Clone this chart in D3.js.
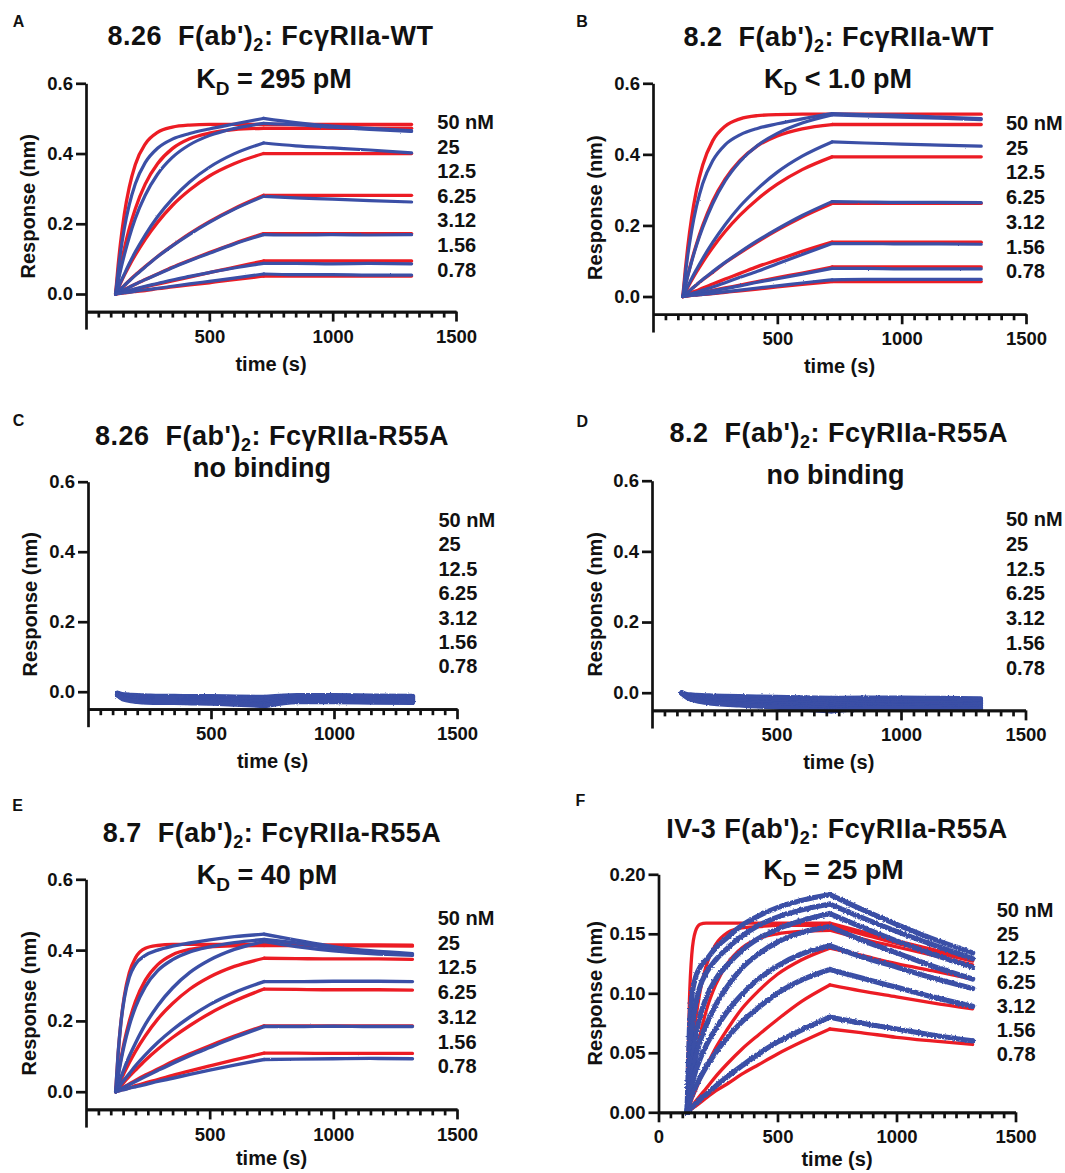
<!DOCTYPE html>
<html>
<head>
<meta charset="utf-8">
<script src="https://cdn.jsdelivr.net/npm/d3@7"></script>
<style>
  body { margin: 0; background: #fff; }
  svg text { font-family: Arial, "Liberation Sans", Helvetica, sans-serif; font-weight: bold; fill: #111; }
</style>
</head>
<body>
<svg id="chart" width="1065" height="1173"></svg>
<script>
// sample times (s): association 120-720, dissociation 720-1320
const TIME = [120, 130, 140, 155, 175, 200, 240, 290, 350, 420, 500, 600, 720, 850, 1000, 1150, 1320];
const CONC_LABELS = ["50 nM", "25", "12.5", "6.25", "3.12", "1.56", "0.78"];

const Y_TICKS = [0, 0.2, 0.4, 0.6];
const F_Y_TICKS = [0, 0.05, 0.1, 0.15, 0.2];
const X_TICKS = [500, 1000, 1500];
const F_X_TICKS = [0, 500, 1000, 1500];
const MINOR_TICKS = d3.range(50, 1500, 50).filter(t => t % 500 !== 0);

// A: 8.26 F(ab')2 : FcgRIIa-WT
const A_FIT = [
  [0, .080, .146, .226, .303, .369, .427, .460, .475, .481, .483, .483, .483, .483, .483, .483, .483],
  [0, .041, .078, .128, .185, .243, .313, .371, .414, .442, .458, .468, .472, .472, .472, .472, .472],
  [0, .016, .031, .053, .080, .111, .156, .204, .252, .296, .336, .371, .400, .400, .400, .400, .400],
  [0, .007, .014, .024, .038, .054, .078, .107, .138, .172, .206, .243, .281, .281, .281, .281, .281],
  [0, .004, .007, .013, .019, .028, .041, .057, .076, .096, .118, .144, .172, .172, .172, .172, .172],
  [0, .002, .003, .006, .009, .013, .020, .028, .037, .048, .061, .076, .094, .094, .094, .094, .094],
  [0, .001, .002, .003, .005, .007, .010, .015, .020, .026, .032, .041, .051, .051, .051, .051, .051]
];
const A_DATA = [
  [0, .063, .118, .185, .253, .314, .374, .415, .441, .457, .470, .484, .500, .488, .478, .472, .465],
  [0, .035, .067, .110, .161, .215, .281, .341, .389, .425, .451, .471, .486, .482, .475, .469, .463],
  [0, .017, .033, .056, .086, .120, .168, .220, .271, .319, .361, .399, .430, .422, .416, .410, .402],
  [0, .007, .014, .024, .037, .053, .077, .106, .137, .170, .204, .241, .278, .274, .270, .266, .262],
  [0, .004, .007, .012, .019, .028, .041, .056, .075, .095, .116, .142, .169, .168, .169, .168, .169],
  [0, .002, .004, .007, .010, .015, .022, .030, .040, .050, .061, .074, .087, .087, .086, .087, .086],
  [0, .001, .002, .004, .005, .008, .012, .016, .022, .029, .036, .045, .057, .055, .055, .054, .054]
];

// B: 8.2 F(ab')2 : FcgRIIa-WT
const B_FIT = [
  [0, .076, .141, .220, .300, .370, .438, .479, .500, .509, .512, .513, .513, .513, .513, .513, .513],
  [0, .031, .060, .100, .148, .200, .268, .330, .383, .424, .452, .472, .484, .484, .484, .484, .484],
  [0, .013, .026, .045, .069, .097, .138, .183, .229, .274, .316, .357, .393, .393, .393, .393, .393],
  [0, .006, .012, .021, .033, .047, .068, .095, .123, .154, .187, .224, .262, .262, .262, .262, .262],
  [0, .003, .006, .011, .016, .024, .035, .049, .065, .084, .103, .127, .153, .153, .153, .153, .153],
  [0, .001, .003, .005, .008, .011, .017, .024, .032, .042, .053, .066, .083, .083, .083, .083, .083],
  [0, .001, .001, .003, .004, .006, .008, .012, .016, .021, .027, .034, .042, .042, .042, .042, .042]
];
const B_DATA = [
  [0, .062, .117, .184, .254, .318, .382, .427, .455, .473, .486, .500, .515, .512, .510, .505, .501],
  [0, .030, .058, .097, .144, .194, .261, .325, .380, .425, .459, .488, .511, .508, .505, .502, .498],
  [0, .015, .029, .050, .076, .107, .152, .202, .254, .303, .350, .395, .435, .432, .429, .426, .423],
  [0, .006, .012, .021, .033, .048, .070, .096, .125, .157, .190, .228, .267, .266, .265, .265, .264],
  [0, .002, .004, .008, .012, .018, .027, .039, .054, .071, .092, .118, .149, .149, .148, .148, .147],
  [0, .001, .003, .005, .007, .011, .016, .022, .030, .040, .050, .063, .079, .079, .078, .078, .078],
  [0, .001, .002, .003, .004, .006, .009, .013, .018, .024, .030, .038, .047, .048, .048, .048, .048]
];

// C: 8.26 F(ab')2 : FcgRIIa-R55A (no binding)
const C_DATA = [
  [-.004, -.006, -.008, -.009, -.010, -.011, -.012, -.013, -.013, -.014, -.014, -.015, -.016, -.011, -.011, -.012, -.013],
  [-.005, -.008, -.010, -.012, -.013, -.014, -.015, -.016, -.016, -.017, -.017, -.018, -.019, -.014, -.014, -.015, -.016],
  [-.006, -.009, -.012, -.014, -.016, -.017, -.018, -.019, -.019, -.020, -.020, -.021, -.022, -.017, -.017, -.018, -.019],
  [-.007, -.011, -.014, -.016, -.018, -.020, -.021, -.022, -.022, -.023, -.023, -.024, -.026, -.020, -.020, -.021, -.022],
  [-.008, -.012, -.016, -.019, -.021, -.023, -.024, -.025, -.025, -.026, -.026, -.028, -.030, -.023, -.023, -.024, -.025],
  [-.009, -.014, -.018, -.021, -.024, -.026, -.027, -.028, -.028, -.029, -.030, -.032, -.035, -.026, -.026, -.027, -.028],
  [-.010, -.015, -.020, -.023, -.026, -.028, -.030, -.031, -.031, -.032, -.033, -.036, -.040, -.029, -.029, -.030, -.031]
];

// D: 8.2 F(ab')2 : FcgRIIa-R55A (no binding)
const D_DATA = [
  [0, -.003, -.005, -.006, -.007, -.008, -.009, -.010, -.011, -.012, -.013, -.014, -.016, -.015, -.015, -.016, -.017],
  [0, -.004, -.007, -.008, -.010, -.011, -.013, -.014, -.015, -.016, -.018, -.019, -.022, -.020, -.020, -.021, -.022],
  [-.001, -.005, -.008, -.010, -.012, -.014, -.016, -.018, -.019, -.020, -.022, -.024, -.028, -.025, -.024, -.026, -.027],
  [-.001, -.006, -.009, -.012, -.015, -.017, -.019, -.021, -.023, -.025, -.026, -.029, -.034, -.030, -.029, -.030, -.031],
  [-.001, -.006, -.010, -.014, -.017, -.020, -.023, -.025, -.027, -.029, -.031, -.034, -.040, -.035, -.034, -.035, -.036],
  [-.002, -.007, -.012, -.016, -.019, -.023, -.027, -.029, -.031, -.034, -.036, -.040, -.046, -.040, -.038, -.040, -.041],
  [-.002, -.008, -.013, -.018, -.022, -.026, -.030, -.033, -.035, -.038, -.041, -.046, -.052, -.045, -.043, -.045, -.046]
];

// E: 8.7 F(ab')2 : FcgRIIa-R55A
const E_FIT = [
  [0, .108, .188, .270, .336, .378, .405, .413, .416, .416, .416, .416, .416, .416, .415, .415, .414],
  [0, .047, .088, .142, .199, .255, .315, .359, .387, .402, .409, .412, .413, .413, .412, .412, .411],
  [0, .016, .032, .054, .082, .114, .158, .205, .249, .290, .324, .354, .377, .376, .375, .375, .374],
  [0, .008, .016, .028, .043, .061, .089, .120, .153, .187, .221, .256, .290, .289, .288, .288, .287],
  [0, .004, .008, .014, .022, .032, .047, .064, .085, .107, .130, .157, .186, .186, .186, .186, .186],
  [0, .002, .004, .007, .011, .017, .025, .034, .046, .059, .073, .090, .109, .109, .108, .108, .108]
];
const E_DATA = [
  [0, .109, .187, .264, .323, .360, .385, .400, .411, .420, .429, .438, .445, .428, .410, .398, .390],
  [0, .044, .083, .133, .187, .239, .297, .342, .373, .395, .409, .421, .430, .420, .405, .395, .388],
  [0, .020, .039, .066, .100, .137, .190, .243, .293, .337, .372, .402, .424, .410, .398, .390, .385],
  [0, .010, .020, .034, .051, .073, .104, .139, .175, .211, .246, .280, .311, .311, .312, .312, .311],
  [0, .004, .008, .013, .020, .029, .043, .060, .080, .102, .125, .153, .184, .184, .185, .184, .184],
  [0, .002, .004, .006, .010, .014, .020, .029, .038, .049, .061, .075, .091, .092, .093, .094, .093]
];

// F: IV-3 F(ab')2 : FcgRIIa-R55A
const F_FIT = [
  [0, .094, .133, .152, .158, .159, .159, .159, .159, .159, .159, .159, .159, .152, .144, .137, .129],
  [0, .027, .050, .076, .102, .123, .141, .151, .155, .156, .157, .157, .157, .150, .142, .135, .127],
  [0, .015, .028, .045, .065, .085, .107, .125, .138, .146, .150, .152, .153, .146, .139, .132, .124],
  [0, .005, .011, .018, .028, .038, .054, .070, .087, .102, .116, .128, .138, .132, .125, .119, .112],
  [0, .003, .005, .009, .014, .020, .030, .041, .053, .065, .078, .093, .107, .102, .097, .092, .087],
  [0, .002, .003, .005, .008, .012, .018, .024, .032, .040, .049, .059, .070, .067, .063, .060, .057]
];
const F_DATA = [
  [0, .070, .097, .113, .122, .128, .138, .147, .157, .165, .172, .178, .183, .171, .158, .146, .134],
  [0, .041, .067, .090, .106, .117, .128, .138, .148, .157, .164, .170, .175, .164, .152, .141, .129],
  [0, .023, .042, .062, .081, .096, .112, .124, .136, .146, .154, .161, .167, .156, .144, .133, .122],
  [0, .018, .032, .046, .060, .073, .090, .106, .121, .133, .143, .151, .156, .145, .134, .123, .112],
  [0, .013, .023, .034, .045, .056, .070, .085, .099, .112, .123, .133, .140, .131, .122, .113, .104],
  [0, .008, .014, .021, .029, .038, .050, .063, .076, .088, .100, .111, .120, .113, .105, .097, .089],
  [0, .002, .004, .007, .011, .015, .022, .030, .039, .049, .059, .069, .080, .075, .070, .065, .060]
];

const RED = "#ec1c24";
const BLUE = "#3a4fa6";
const INK = "#111";

const PANELS = [
  { letter: "A", lx: 18.6, ly: 26.5,
    title: ["8.26  F(ab')", "2", ": FcγRIIa-WT"], tx: 270.4, ty: 45,
    kd: " = 295 pM", sx: 274, sy: 88.3,
    x0: 86, x1: 456, y0: 294, yTop: 83.3, yMax: 0.6, yMin: -0.1, axisAt: -0.05,
    yTicks: Y_TICKS, yFmt: ".1f", xTicks: X_TICKS, ylabX: 28.3, xlabDy: 59,
    concX: 437.3, concY: 129, concDy: 24.6, fit: A_FIT, data: A_DATA, blueW: 3.2, noise: "noise" },
  { letter: "B", lx: 582, ly: 26.5,
    title: ["8.2  F(ab')", "2", ": FcγRIIa-WT"], tx: 838.8, ty: 45.5,
    kd: " < 1.0 pM", sx: 838, sy: 88.3,
    x0: 653, x1: 1026, y0: 296.5, yTop: 83.3, yMax: 0.6, yMin: -0.1, axisAt: -0.05,
    yTicks: Y_TICKS, yFmt: ".1f", xTicks: X_TICKS, ylabX: 595, xlabDy: 59,
    concX: 1006, concY: 130, concDy: 24.7, fit: B_FIT, data: B_DATA, blueW: 3.2, noise: "noise" },
  { letter: "C", lx: 18.6, ly: 425.7,
    title: ["8.26  F(ab')", "2", ": FcγRIIa-R55A"], tx: 272, ty: 445,
    plain: "no binding", sx: 262, sy: 476.7,
    x0: 88, x1: 457, y0: 691.7, yTop: 481.7, yMax: 0.6, yMin: -0.1, axisAt: -0.05,
    yTicks: Y_TICKS, yFmt: ".1f", xTicks: X_TICKS, ylabX: 30, xlabDy: 59,
    concX: 438.4, concY: 527, concDy: 24.4, fit: [], data: C_DATA, blueW: 5, noise: "noiseBand" },
  { letter: "D", lx: 582.2, ly: 426.7,
    title: ["8.2  F(ab')", "2", ": FcγRIIa-R55A"], tx: 838.8, ty: 441.7,
    plain: "no binding", sx: 835.4, sy: 484.3,
    x0: 652, x1: 1025.5, y0: 692.7, yTop: 480.7, yMax: 0.6, yMin: -0.1, axisAt: -0.05,
    yTicks: Y_TICKS, yFmt: ".1f", xTicks: X_TICKS, ylabX: 594.8, xlabDy: 59,
    concX: 1006, concY: 526, concDy: 24.8, fit: [], data: D_DATA, blueW: 5, noise: "noiseBand" },
  { letter: "E", lx: 17.6, ly: 810.7,
    title: ["8.7  F(ab')", "2", ": FcγRIIa-R55A"], tx: 272, ty: 841.7,
    kd: " = 40 pM", sx: 267, sy: 884,
    x0: 86, x1: 457, y0: 1091.7, yTop: 879.3, yMax: 0.6, yMin: -0.1, axisAt: -0.05,
    yTicks: Y_TICKS, yFmt: ".1f", xTicks: X_TICKS, ylabX: 28.7, xlabDy: 56,
    concX: 437.7, concY: 925, concDy: 24.7, fit: E_FIT, data: E_DATA, blueW: 3.4, noise: "noise" },
  { letter: "F", lx: 580.5, ly: 806.4,
    title: ["IV-3 F(ab')", "2", ": FcγRIIa-R55A"], tx: 837, ty: 838.3,
    kd: " = 25 pM", sx: 833.6, sy: 879.3,
    x0: 658.5, x1: 1015.5, y0: 1112.3, yTop: 874.3, yMax: 0.2, yMin: 0, axisAt: 0,
    yTicks: F_Y_TICKS, yFmt: ".2f", xTicks: F_X_TICKS, ylabX: 594.8, xlabDy: 54,
    concX: 996.7, concY: 917.3, concDy: 23.9, fit: F_FIT, data: F_DATA, blueW: 5.2, noise: "noiseWide" }
];

const svg = d3.select("#chart");
const defs = svg.append("defs");

// ragged sensor trace look for the measured curves
[["noise", 1.8, 0.6], ["noiseBand", 2.5, 0.6], ["noiseWide", 3.2, 0.55]].forEach(([id, scale, freq]) => {
  const f = defs.append("filter").attr("id", id)
    .attr("filterUnits", "userSpaceOnUse")
    .attr("x", 0).attr("y", 0).attr("width", 1065).attr("height", 1173);
  f.append("feTurbulence").attr("type", "fractalNoise")
    .attr("baseFrequency", freq).attr("numOctaves", 1).attr("seed", 7).attr("result", "n");
  f.append("feDisplacementMap").attr("in", "SourceGraphic").attr("in2", "n")
    .attr("scale", scale).attr("xChannelSelector", "R").attr("yChannelSelector", "G");
});

PANELS.forEach(drawPanel);

function styleAxis(sel, size) {
  sel.attr("font-size", size).attr("font-family", null);
  sel.selectAll("path, line").attr("stroke", INK).attr("stroke-width", 2.7);
  sel.selectAll("text").attr("fill", INK);
}

function drawPanel(p) {
  const g = svg.append("g");
  const x = d3.scaleLinear().domain([0, 1500]).range([p.x0, p.x1]);
  const y = d3.scaleLinear().domain([0, p.yMax]).range([p.y0, p.yTop]);
  const yAxisScale = d3.scaleLinear().domain([p.yMin, p.yMax]).range([y(p.yMin), y(p.yMax)]);
  const axisY = y(p.axisAt);

  // traces: split at 720 s so the kink between association and dissociation stays sharp
  const line = d3.line().x(d => x(d[0])).y(d => y(d[1])).curve(d3.curveMonotoneX);
  const split = vals => {
    const pts = vals.map((v, i) => [TIME[i], v]);
    return [pts.slice(0, 13), pts.slice(12)];
  };

  g.append("g")
    .attr("fill", "none").attr("stroke", RED).attr("stroke-width", 3.3)
    .attr("stroke-linecap", "round").attr("stroke-linejoin", "round")
    .selectAll("path").data(p.fit.flatMap(split)).join("path")
    .attr("d", line);

  g.append("g")
    .attr("fill", "none").attr("stroke", BLUE).attr("stroke-width", p.blueW)
    .attr("stroke-linecap", "round").attr("stroke-linejoin", "round")
    .attr("filter", `url(#${p.noise})`)
    .selectAll("path").data(p.data.flatMap(split)).join("path")
    .attr("d", line);

  // axes
  g.append("g").attr("transform", `translate(${p.x0},0)`)
    .call(d3.axisLeft(yAxisScale).tickValues(p.yTicks).tickFormat(d3.format(p.yFmt))
      .tickSize(10).tickPadding(3).tickSizeOuter(0))
    .call(styleAxis, 18.5);

  g.append("g").attr("transform", `translate(0,${axisY})`)
    .call(d3.axisBottom(x).tickValues(MINOR_TICKS).tickFormat("").tickSize(6).tickSizeOuter(0))
    .call(styleAxis, 18.5);

  g.append("g").attr("transform", `translate(0,${axisY})`)
    .call(d3.axisBottom(x).tickValues(p.xTicks).tickFormat(d3.format("d"))
      .tickSize(10).tickPadding(8).tickSizeOuter(0))
    .call(styleAxis, 18.5);

  // axis titles
  g.append("text")
    .attr("x", (p.x0 + p.x1) / 2).attr("y", axisY + p.xlabDy)
    .attr("text-anchor", "middle").attr("font-size", 20)
    .text("time (s)");

  g.append("text")
    .attr("transform", `translate(${p.ylabX},${(y(p.yMin) + y(p.yMax)) / 2}) rotate(-90)`)
    .attr("text-anchor", "middle").attr("dy", "0.35em").attr("font-size", 20)
    .text("Response (nm)");

  // panel letter
  g.append("text").attr("x", p.lx).attr("y", p.ly)
    .attr("text-anchor", "middle").attr("font-size", 16).text(p.letter);

  // title with subscript 2
  const t = g.append("text").attr("x", p.tx).attr("y", p.ty)
    .attr("text-anchor", "middle").attr("font-size", 27)
    .attr("letter-spacing", 0.5).style("white-space", "pre");
  t.append("tspan").text(p.title[0]);
  t.append("tspan").attr("dy", 6).attr("font-size", 18).text(p.title[1]);
  t.append("tspan").attr("dy", -6).text(p.title[2]);

  // KD line or "no binding"
  const s = g.append("text").attr("x", p.sx).attr("y", p.sy)
    .attr("text-anchor", "middle").attr("font-size", 27).style("white-space", "pre");
  if (p.kd) {
    s.append("tspan").text("K");
    s.append("tspan").attr("dy", 7).attr("font-size", 19).text("D");
    s.append("tspan").attr("dy", -7).text(p.kd);
  } else {
    s.text(p.plain);
  }

  // concentration list
  g.append("g").selectAll("text").data(CONC_LABELS).join("text")
    .attr("x", p.concX).attr("y", (d, i) => p.concY + i * p.concDy)
    .attr("font-size", 20)
    .text(d => d);
}
</script>
</body>
</html>
